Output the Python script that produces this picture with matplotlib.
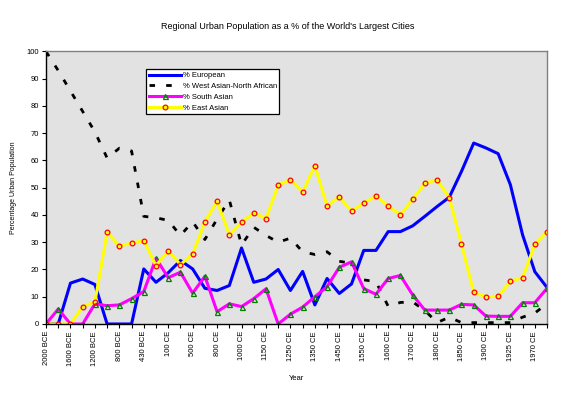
import numpy as np
import matplotlib.pyplot as plt

years = ['2000 BCE', '1800 BCE', '1600 BCE', '1400 BCE', '1200 BCE', '1000 BCE',
         '800 BCE', '650 BCE', '430 BCE', '200 BCE', '100 CE', '361 CE', '500 CE',
         '622 CE', '800 CE', '900 CE', '1000 CE', '1100 CE', '1150 CE', '1200 CE',
         '1250 CE', '1300 CE', '1350 CE', '1400 CE', '1450 CE', '1500 CE', '1550 CE',
         '1575 CE', '1600 CE', '1650 CE', '1700 CE', '1750 CE', '1800 CE', '1825 CE',
         '1850 CE', '1875 CE', '1900 CE', '1914 CE', '1925 CE', '1950 CE', '1970 CE',
         '2000 CE']

european = [0, 0, 15.0, 16.5, 14.5, 0, 0, 0, 20.2, 15.3, 18.8, 23.3, 20.2, 13.1,
            12.3, 14.1, 27.9, 15.3, 16.5, 20.0, 12.3, 19.3, 7.0, 16.7, 11.2, 14.7,
            27.0, 27.0, 33.9, 33.9, 36.0, 39.5, 43.1, 46.5, 56.0, 66.4, 64.6, 62.5,
            51.1, 32.7, 19.2, 13.4]

west_asian = [100, 93, 85.5, 78, 70.5, 60.9, 64.5, 63.5, 39.5, 39, 38, 32.5, 37.5,
              31, 38.5, 45.5, 29, 35.5, 32.5, 30, 31.5, 26.5, 25.5, 26.5, 23, 22.3,
              16.2, 15.5, 6.5, 7.9, 8.1, 5, 0.5, 2.5, 0.5, 0.5, 0.5, 0.5, 0.5, 2.5,
              4.0, 7.5]

south_asian = [0, 5.5, 0, 0, 7.4, 6.7, 7.0, 9.3, 11.9, 24.1, 17.0, 19.0, 11.3, 17.5,
               4.5, 7.4, 6.4, 9.3, 12.9, 0, 3.6, 6.2, 10.0, 13.7, 20.8, 22.8, 13.0,
               10.9, 16.7, 17.8, 10.7, 5.1, 5.1, 5.1, 7.2, 7.0, 2.9, 2.8, 2.8, 7.8,
               7.8, 13.1]

east_asian = [0, 0, 0, 6.4, 8.1, 33.7, 28.6, 29.7, 30.6, 21.4, 26.8, 21.8, 25.7,
              37.5, 45.0, 32.8, 37.3, 40.8, 38.7, 51.0, 52.9, 48.4, 58.1, 43.3, 46.7,
              41.4, 44.4, 46.9, 43.4, 40.0, 45.8, 51.6, 52.9, 46.4, 29.4, 11.6, 10.0,
              10.2, 15.6, 17.0, 29.2, 33.9]

font = ['Liberation Sans', 'DejaVu Sans']
plt.rcParams['font.family'] = font

fig = plt.figure(figsize=(5.76, 3.94), dpi=100)
ax = fig.add_axes([0.0799, 0.1777, 0.8698, 0.6916])
ax.set_facecolor('#e2e2e2')

x = np.arange(len(years))
ax.plot(x, european, color='#0000ff', lw=2.2, label='% European')
ax.plot(x, west_asian, color='black', lw=2.0, dashes=(2, 4), label='% West Asian-North African')
ax.plot(x, south_asian, color='#ff00ff', lw=2.2, marker='^', ms=3.6,
        mfc='none', mec='#008000', mew=0.9, label='% South Asian')
ax.plot(x, east_asian, color='#ffff00', lw=2.2, marker='o', ms=3.4,
        mfc='none', mec='#ff0000', mew=0.9, label='% East Asian')

ax.set_xlim(0, len(years) - 1)
ax.set_ylim(0, 100)
ax.set_yticks(np.arange(0, 101, 10))
ax.set_xticks(x)
ax.set_xticklabels([y if i % 2 == 0 else '' for i, y in enumerate(years)],
                   rotation=90, fontsize=5.5)
ax.tick_params(axis='y', labelsize=5.5, length=3, width=0.8, pad=2)
ax.tick_params(axis='x', length=3, width=0.8, pad=2)

for s in ['top', 'right']:
    ax.spines[s].set_color('#808080')
    ax.spines[s].set_linewidth(1)
for s in ['left', 'bottom']:
    ax.spines[s].set_color('black')
    ax.spines[s].set_linewidth(1)

ax.set_xlabel('Year', fontsize=5.5, labelpad=7)
ax.set_ylabel('Percentage Urban Population', fontsize=5, labelpad=7)
fig.suptitle("Regional Urban Population as a % of the World's Largest Cities",
             fontsize=6.5, y=0.945)

leg = ax.legend(loc='upper left', bbox_to_anchor=(0.2, 0.935), fontsize=5.5,
                frameon=True, fancybox=False, handlelength=4.2, handletextpad=0.2,
                borderpad=0.35, labelspacing=0.45, borderaxespad=0)
leg.get_frame().set_edgecolor('black')
leg.get_frame().set_linewidth(0.9)
leg.get_frame().set_facecolor('white')
leg.get_frame().set_alpha(1)

fig.savefig('out.png', dpi=100)
